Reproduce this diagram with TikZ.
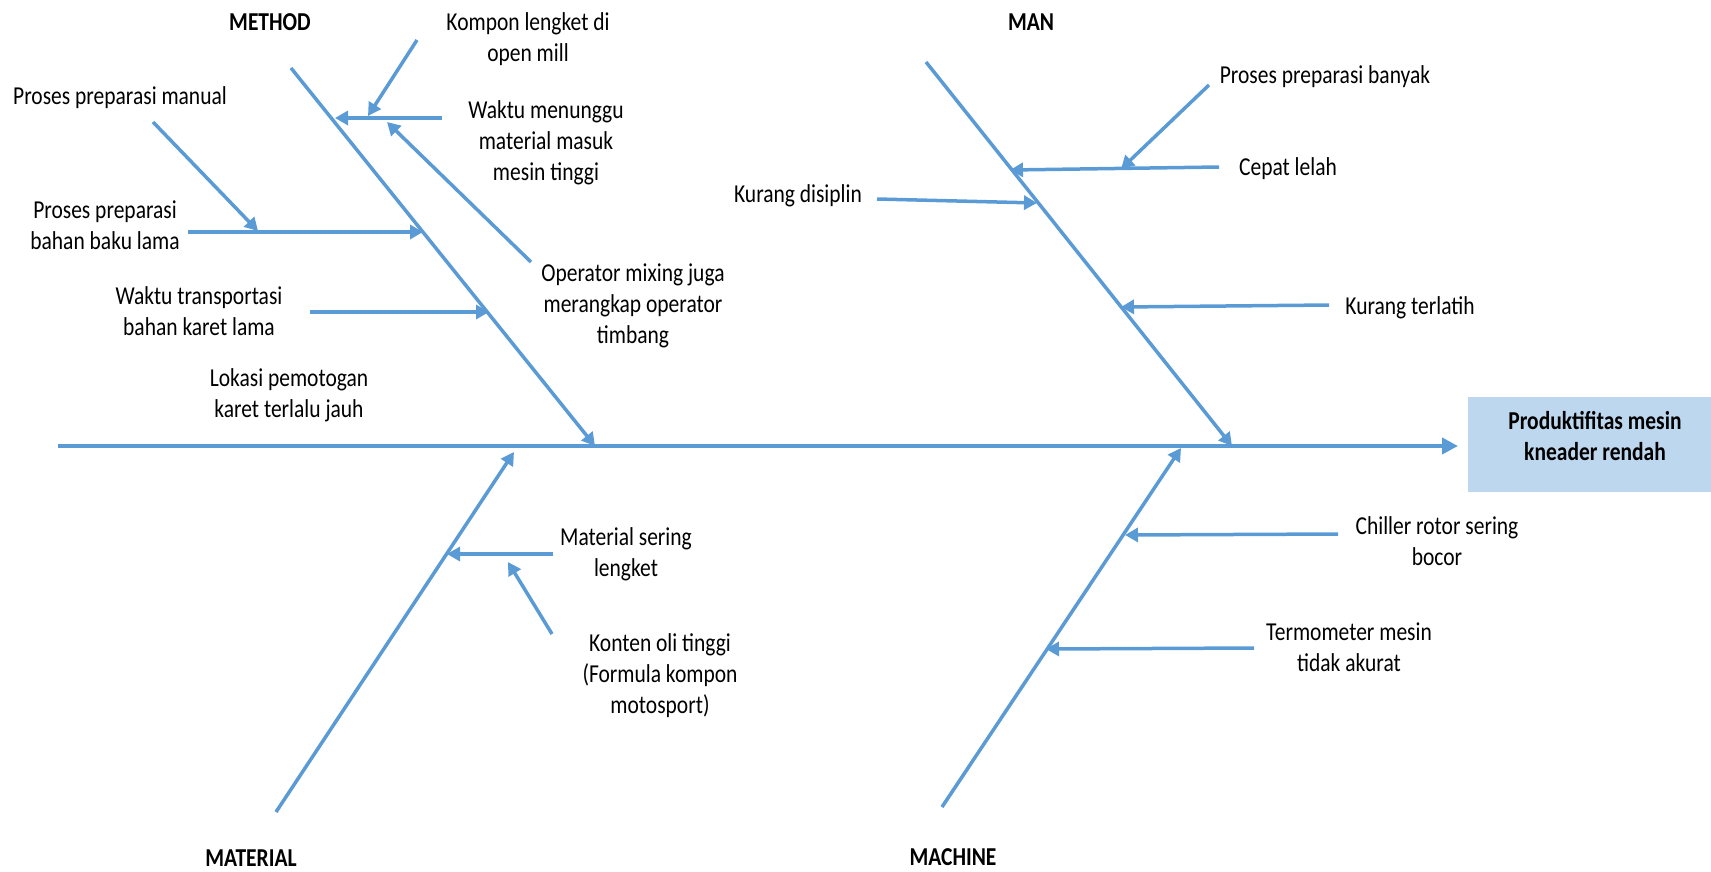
\documentclass[tikz,border=0pt]{standalone}
\usepackage{fontspec}
\usepackage{graphicx}
\setmainfont{Carlito}
\usetikzlibrary{arrows.meta}
\definecolor{bone}{HTML}{5B9BD5}
\definecolor{boxblue}{HTML}{BDD7EE}
% tall, narrow lettering: centred lines stretched vertically
\newcommand\tallstack[1]{\scalebox{1}[1.2]{\begin{tabular}{@{}c@{}}#1\end{tabular}}}
\tikzset{
  cause/.style={font=\fontsize{21.5}{25.8}\selectfont, inner sep=0pt, yshift=-2.5pt},
  head/.style={font=\bfseries\fontsize{21.5}{25.8}\selectfont, inner sep=0pt, yshift=-2.5pt},
  spine/.style={draw=bone, line width=4pt, -{Triangle[length=16pt,width=16pt]}},
  rib/.style={draw=bone, line width=3.5pt, -{Triangle[length=13pt,width=14pt]}},
  twig/.style={draw=bone, line width=3.5pt, -{Triangle[length=13pt,width=14pt]}},
}
\begin{document}
\begin{tikzpicture}[x=1pt,y=-1pt]
\useasboundingbox (0,0) rectangle (1711,871);

% effect box
\node[fill=boxblue, minimum width=243pt, minimum height=95pt, inner sep=0pt]
  (effect) at (1589.5,444.5) {};
\node[head] (effecttext) at (1595,436) {\tallstack{Produktifitas mesin\\kneader rendah}};

% spine
\coordinate (tail) at (58,446);
\coordinate (head) at (1458,446);
\draw[spine] (tail) -- (head);

% category headings
\node[head] (method) at (270,22) {\tallstack{METHOD}};
\node[head] (man) at (1031,22) {\tallstack{MAN}};
\node[head] (material) at (251,858) {\tallstack{MATERIAL}};
\node[head] (machine) at (953,857) {\tallstack{MACHINE}};

% main bones
\coordinate (mtA) at (291,68);   \coordinate (mtB) at (595,446);
\coordinate (mnA) at (926,62);   \coordinate (mnB) at (1232,446);
\coordinate (maA) at (276,812);  \coordinate (maB) at (514,452);
\coordinate (mcA) at (942,807);  \coordinate (mcB) at (1181,448);
\draw[rib] (mtA) -- (mtB);
\draw[rib] (mnA) -- (mnB);
\draw[rib] (maA) -- (maB);
\draw[rib] (mcA) -- (mcB);

% METHOD causes
\node[cause] (c1) at (528,37) {\tallstack{Kompon lengket di\\open mill}};
\node[cause] (c2) at (546,141) {\tallstack{Waktu menunggu\\material masuk\\mesin tinggi}};
\node[cause] (c3) at (633,304) {\tallstack{Operator mixing juga\\merangkap operator\\timbang}};
\node[cause] (c4) at (120,96) {\tallstack{Proses preparasi manual}};
\node[cause] (c5) at (105,225) {\tallstack{Proses preparasi\\bahan baku lama}};
\node[cause] (c6) at (199,311) {\tallstack{Waktu transportasi\\bahan karet lama}};
\node[cause] (c7) at (289,393) {\tallstack{Lokasi pemotogan\\karet terlalu jauh}};

\coordinate (a1s) at (417,40);  \coordinate (a1e) at (368,116);
\coordinate (a2s) at (442,118); \coordinate (a2e) at (335,118);
\coordinate (a3s) at (531,262); \coordinate (a3e) at (387,122);
\coordinate (a4s) at (153,122); \coordinate (a4e) at (258,231);
\coordinate (a5s) at (188,232); \coordinate (a5e) at (423,232);
\coordinate (a6s) at (310,312); \coordinate (a6e) at (489,312);
\draw[twig] (a2s) -- (a2e);
\draw[twig] (a1s) -- (a1e);
\draw[twig] (a3s) -- (a3e);
\draw[twig] (a5s) -- (a5e);
\draw[twig] (a4s) -- (a4e);
\draw[twig] (a6s) -- (a6e);

% MAN causes
\node[cause] (d1) at (1325,75) {\tallstack{Proses preparasi banyak}};
\node[cause] (d2) at (1288,167) {\tallstack{Cepat lelah}};
\node[cause] (d3) at (798,194) {\tallstack{Kurang disiplin}};
\node[cause] (d4) at (1410,306) {\tallstack{Kurang terlatih}};

\coordinate (b1s) at (1209,85);  \coordinate (b1e) at (1121,169);
\coordinate (b2s) at (1219,167); \coordinate (b2e) at (1010,170);
\coordinate (b3s) at (877,199);  \coordinate (b3e) at (1037,203);
\coordinate (b4s) at (1329,305); \coordinate (b4e) at (1121,307);
\draw[twig] (b2s) -- (b2e);
\draw[twig] (b1s) -- (b1e);
\draw[twig] (b3s) -- (b3e);
\draw[twig] (b4s) -- (b4e);

% MATERIAL causes
\node[cause] (e1) at (626,552) {\tallstack{Material sering\\lengket}};
\node[cause] (e2) at (660,674) {\tallstack{Konten oli tinggi\\(Formula kompon\\motosport)}};

\coordinate (f1s) at (553,554); \coordinate (f1e) at (447,554);
\coordinate (f2s) at (552,634); \coordinate (f2e) at (508,562);
\draw[twig] (f1s) -- (f1e);
\draw[twig] (f2s) -- (f2e);

% MACHINE causes
\node[cause] (g1) at (1437,541) {\tallstack{Chiller rotor sering\\bocor}};
\node[cause] (g2) at (1349,647) {\tallstack{Termometer mesin\\tidak akurat}};

\coordinate (h1s) at (1338,534); \coordinate (h1e) at (1125,535);
\coordinate (h2s) at (1254,648); \coordinate (h2e) at (1046,649);
\draw[twig] (h1s) -- (h1e);
\draw[twig] (h2s) -- (h2e);
\end{tikzpicture}
\end{document}
